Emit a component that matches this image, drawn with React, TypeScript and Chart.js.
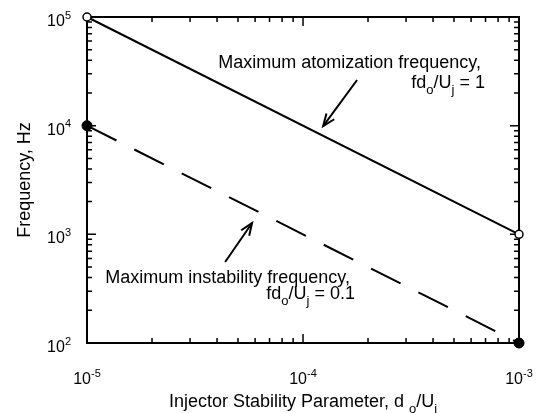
import React, { useEffect, useRef } from "react";
import { Chart, registerables } from "chart.js";

Chart.register(...registerables);

// ---- data ----
const stabilityParam = [1e-5, 1e-3]; // d_o/U_j
const atomizationFreq = [1e5, 1e3]; // fd_o/U_j = 1
const instabilityFreq = [1e4, 1e2]; // fd_o/U_j = 0.1
const xTickExponents = [-5, -4, -3];
const yTickExponents = [2, 3, 4, 5];

// annotation arrows in data coordinates [tailX, tailY, tipX, tipY]
const atomArrow = [1.78e-4, 2.63e4, 1.24e-4, 9.9e3];
const instArrow = [4.36e-5, 556, 5.81e-5, 1270];

const FONT = '"Liberation Sans", Arial, Helvetica, sans-serif';

type Seg = { t: string; sub?: boolean; sup?: boolean };

function drawRich(
  ctx: CanvasRenderingContext2D,
  segs: Seg[],
  x: number,
  y: number,
  align: "left" | "center" | "right",
  size: number,
  small: number
) {
  const widths = segs.map((s) => {
    ctx.font = `${s.sub || s.sup ? small : size}px ${FONT}`;
    return ctx.measureText(s.t).width;
  });
  const total = widths.reduce((a, b) => a + b, 0);
  let cx = align === "left" ? x : align === "center" ? x - total / 2 : x - total;
  ctx.textAlign = "left";
  ctx.textBaseline = "alphabetic";
  segs.forEach((s, i) => {
    ctx.font = `${s.sub || s.sup ? small : size}px ${FONT}`;
    let dy = 0;
    if (s.sub) dy = size * 0.35;
    if (s.sup) dy = -size * 0.45;
    ctx.fillText(s.t, cx, y + dy);
    cx += widths[i];
  });
}

function arrow(ctx: CanvasRenderingContext2D, x1: number, y1: number, x2: number, y2: number) {
  ctx.beginPath();
  ctx.moveTo(x1, y1);
  ctx.lineTo(x2, y2);
  ctx.stroke();
  const ang = Math.atan2(y2 - y1, x2 - x1);
  const L = 13;
  const spread = 0.38;
  ctx.beginPath();
  ctx.moveTo(x2 - L * Math.cos(ang - spread), y2 - L * Math.sin(ang - spread));
  ctx.lineTo(x2, y2);
  ctx.lineTo(x2 - L * Math.cos(ang + spread), y2 - L * Math.sin(ang + spread));
  ctx.stroke();
}

const framePlugin = {
  id: "frameTicks",
  beforeDatasetsDraw(chart: any) {
    const { ctx, chartArea: a, scales } = chart;
    const xs = scales.x;
    const ys = scales.y;
    ctx.save();
    ctx.strokeStyle = "#000";
    ctx.lineWidth = 2;
    ctx.strokeRect(a.left, a.top, a.right - a.left, a.bottom - a.top);
    ctx.lineWidth = 1.5;
    // x ticks
    for (let e = -5; e <= -3; e++) {
      for (let k = 1; k <= 9; k++) {
        if (e === -3 && k > 1) break;
        const v = k * Math.pow(10, e);
        const px = xs.getPixelForValue(v);
        const len = k === 1 ? 9 : 5;
        ctx.beginPath();
        ctx.moveTo(px, a.bottom);
        ctx.lineTo(px, a.bottom - len);
        ctx.moveTo(px, a.top);
        ctx.lineTo(px, a.top + len);
        ctx.stroke();
      }
    }
    // y ticks
    for (let e = 2; e <= 5; e++) {
      for (let k = 1; k <= 9; k++) {
        if (e === 5 && k > 1) break;
        const v = k * Math.pow(10, e);
        const py = ys.getPixelForValue(v);
        const len = k === 1 ? 9 : 5;
        ctx.beginPath();
        ctx.moveTo(a.left, py);
        ctx.lineTo(a.left + len, py);
        ctx.moveTo(a.right, py);
        ctx.lineTo(a.right - len, py);
        ctx.stroke();
      }
    }
    ctx.restore();
  },
  afterDraw(chart: any) {
    const { ctx, chartArea: a, scales } = chart;
    const xs = scales.x;
    const ys = scales.y;
    ctx.save();
    ctx.fillStyle = "#000";
    ctx.strokeStyle = "#000";
    // tick labels
    xTickExponents.forEach((e) => {
      const px = xs.getPixelForValue(Math.pow(10, e));
      drawRich(ctx, [{ t: "10" }, { t: String(e), sup: true }], px, a.bottom + 41, "center", 16, 11);
    });
    yTickExponents.forEach((e) => {
      const py = ys.getPixelForValue(Math.pow(10, e));
      drawRich(ctx, [{ t: "10" }, { t: String(e), sup: true }], a.left - 16, py + 9, "right", 16, 11);
    });
    // axis titles
    drawRich(
      ctx,
      [
        { t: "Injector Stability Parameter, d " },
        { t: "o", sub: true },
        { t: "/U" },
        { t: "j", sub: true },
      ],
      (a.left + a.right) / 2,
      a.bottom + 64,
      "center",
      18,
      13
    );
    ctx.save();
    ctx.translate(30, (a.top + a.bottom) / 2);
    ctx.rotate(-Math.PI / 2);
    ctx.font = `18px ${FONT}`;
    ctx.textAlign = "center";
    ctx.textBaseline = "alphabetic";
    ctx.fillText("Frequency, Hz", 0, 0);
    ctx.restore();

    // annotations
    drawRich(ctx, [{ t: "Maximum atomization frequency," }], 481, 68, "right", 18, 13);
    drawRich(
      ctx,
      [{ t: "fd" }, { t: "o", sub: true }, { t: "/U" }, { t: "j", sub: true }, { t: " = 1" }],
      485,
      88,
      "right",
      18,
      13
    );
    drawRich(ctx, [{ t: "Maximum instability frequency," }], 350, 283, "right", 18, 13);
    drawRich(
      ctx,
      [{ t: "fd" }, { t: "o", sub: true }, { t: "/U" }, { t: "j", sub: true }, { t: " = 0.1" }],
      355,
      299,
      "right",
      18,
      13
    );
    ctx.lineWidth = 2;
    arrow(
      ctx,
      xs.getPixelForValue(atomArrow[0]),
      ys.getPixelForValue(atomArrow[1]),
      xs.getPixelForValue(atomArrow[2]),
      ys.getPixelForValue(atomArrow[3])
    );
    arrow(
      ctx,
      xs.getPixelForValue(instArrow[0]),
      ys.getPixelForValue(instArrow[1]),
      xs.getPixelForValue(instArrow[2]),
      ys.getPixelForValue(instArrow[3])
    );
    ctx.restore();
  },
};

export default function App() {
  const ref = useRef<HTMLCanvasElement | null>(null);
  useEffect(() => {
    document.body.style.margin = "0";
    const canvas = ref.current;
    if (!canvas) return;
    const chart = new Chart(canvas, {
      type: "line",
      data: {
        datasets: [
          {
            label: "Maximum atomization frequency",
            data: stabilityParam.map((x, i) => ({ x, y: atomizationFreq[i] })),
            borderColor: "#000",
            borderWidth: 2,
            pointRadius: 4,
            pointBackgroundColor: "#fff",
            pointBorderColor: "#000",
            pointBorderWidth: 1.5,
            clip: false,
          },
          {
            label: "Maximum instability frequency",
            data: stabilityParam.map((x, i) => ({ x, y: instabilityFreq[i] })),
            borderColor: "#000",
            borderWidth: 2,
            borderDash: [33, 20],
            pointRadius: 5,
            pointBackgroundColor: "#000",
            pointBorderColor: "#000",
            pointBorderWidth: 1,
            clip: false,
          },
        ],
      },
      options: {
        responsive: false,
        animation: false,
        layout: { padding: { left: 87, top: 17, right: 27, bottom: 70 } },
        plugins: { legend: { display: false }, tooltip: { enabled: false } },
        scales: {
          x: { type: "logarithmic", min: 1e-5, max: 1e-3, display: false },
          y: { type: "logarithmic", min: 1e2, max: 1e5, display: false },
        },
      },
      plugins: [framePlugin],
    });
    return () => chart.destroy();
  }, []);
  return (
    <div style={{ width: 546, height: 413, background: "#fff" }}>
      <canvas ref={ref} width={546} height={413} style={{ display: "block" }} />
    </div>
  );
}
